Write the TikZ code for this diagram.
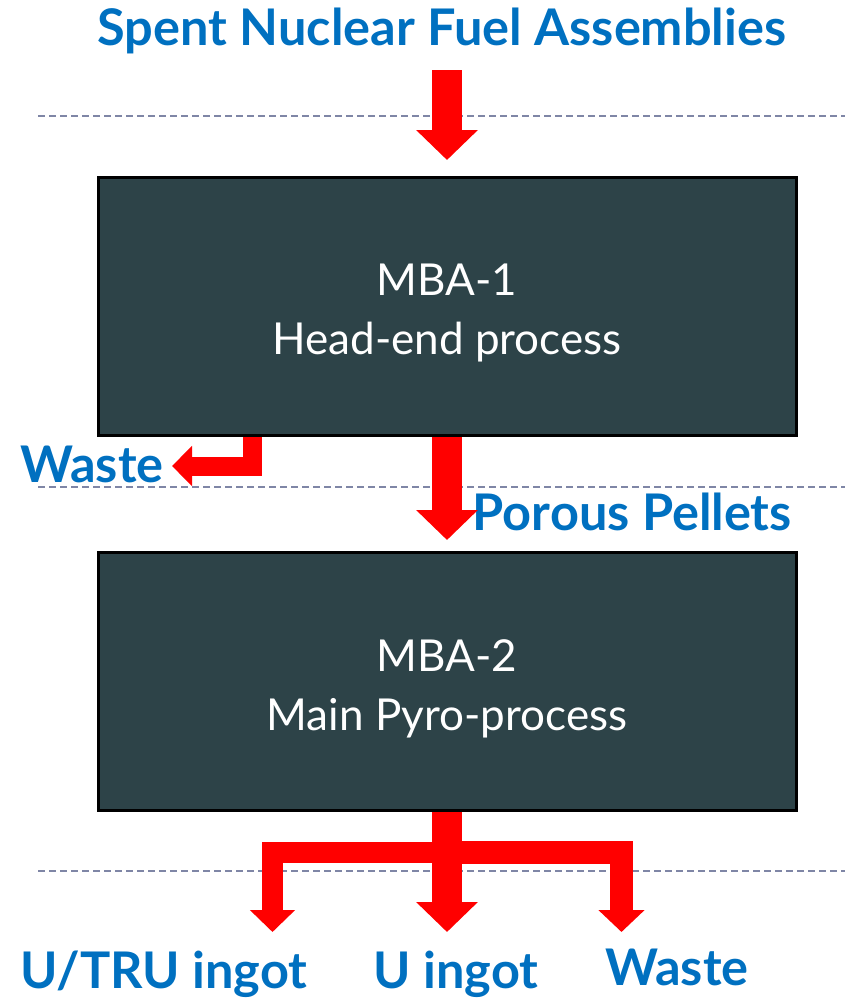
\documentclass[tikz,border=0pt]{standalone}
\usepackage{fontspec}
\setmainfont{Lato}
\usetikzlibrary{arrows.meta}
\definecolor{ttl}{HTML}{0070C0}
\definecolor{boxfill}{HTML}{2D4348}
\definecolor{dashc}{HTML}{7F86A6}
\definecolor{arr}{HTML}{FF0000}
\begin{document}
\begin{tikzpicture}[x=1pt,y=-1pt,
  box/.style={draw=black, line width=3pt, fill=boxfill, minimum width=698pt, minimum height=258pt, inner sep=0pt},
  boxtxt/.style={text=white, font=\fontsize{44}{59}\selectfont, align=center, inner sep=0pt},
  lbl/.style={text=ttl, font=\bfseries\fontsize{50.5}{60}\selectfont, inner sep=0pt},
  guide/.style={draw=dashc, line width=1.5pt, dash pattern=on 7pt off 4pt},
  fat/.style={draw=arr, line width=30pt, -{Triangle[width=60pt,length=30pt]}},
  thinarr/.style={draw=arr, line width=21pt, line join=miter, -{Triangle[width=44pt,length=22pt]}}]
\useasboundingbox (0,0) rectangle (845,1002);
% guides
\foreach \yy in {116,487,871} \draw[guide] (38,\yy) -- (845,\yy);
% nodes
\node[lbl, anchor=base] (title) at (442,45) {Spent Nuclear Fuel Assemblies};
\node[lbl, anchor=base west] (wasteL) at (20,482) {Waste};
\node[lbl, anchor=base east] (pellets) at (792,530) {Porous Pellets};
\node[lbl, anchor=base west] (utru) at (20,988) {U/TRU ingot};
\node[lbl, anchor=base] (uing) at (456,988) {U ingot};
\node[lbl, anchor=base west] (wasteR) at (605,985) {Waste};
\coordinate (m1c) at (447,306);
\coordinate (m2c) at (447,681.5);
% coordinates for arrows
\coordinate (topstart) at (447,70);
\coordinate (wl0) at (252.5,436);
\coordinate (wl1) at (172,466);
\coordinate (split) at (447,852.5);
\coordinate (tipL) at (272.5,932);
\coordinate (tipM) at (447,932);
\coordinate (tipR) at (621.5,932);
% arrows (drawn before boxes)
\draw[fat] (topstart) -- (447,160);
\draw[fat] (447,436) -- (447,540);
\draw[thinarr, line width=19pt, -{Triangle[width=39pt,length=20pt]}] (wl0) |- (wl1);
\draw[fat] (447,809) -- (tipM);
\draw[thinarr] (split) -| (tipL);
\draw[thinarr, line width=23pt, -{Triangle[width=45pt,length=22pt]}] (split) -| (tipR);
% boxes
\node[box] (m1) at (m1c) {};
\node[box] (m2) at (m2c) {};
\node[boxtxt] (m1t) at ([yshift=-7pt]m1.center) {MBA-1\\Head-end process};
\node[boxtxt] (m2t) at ([yshift=-7pt]m2.center) {MBA-2\\Main Pyro-process};
\end{tikzpicture}
\end{document}
